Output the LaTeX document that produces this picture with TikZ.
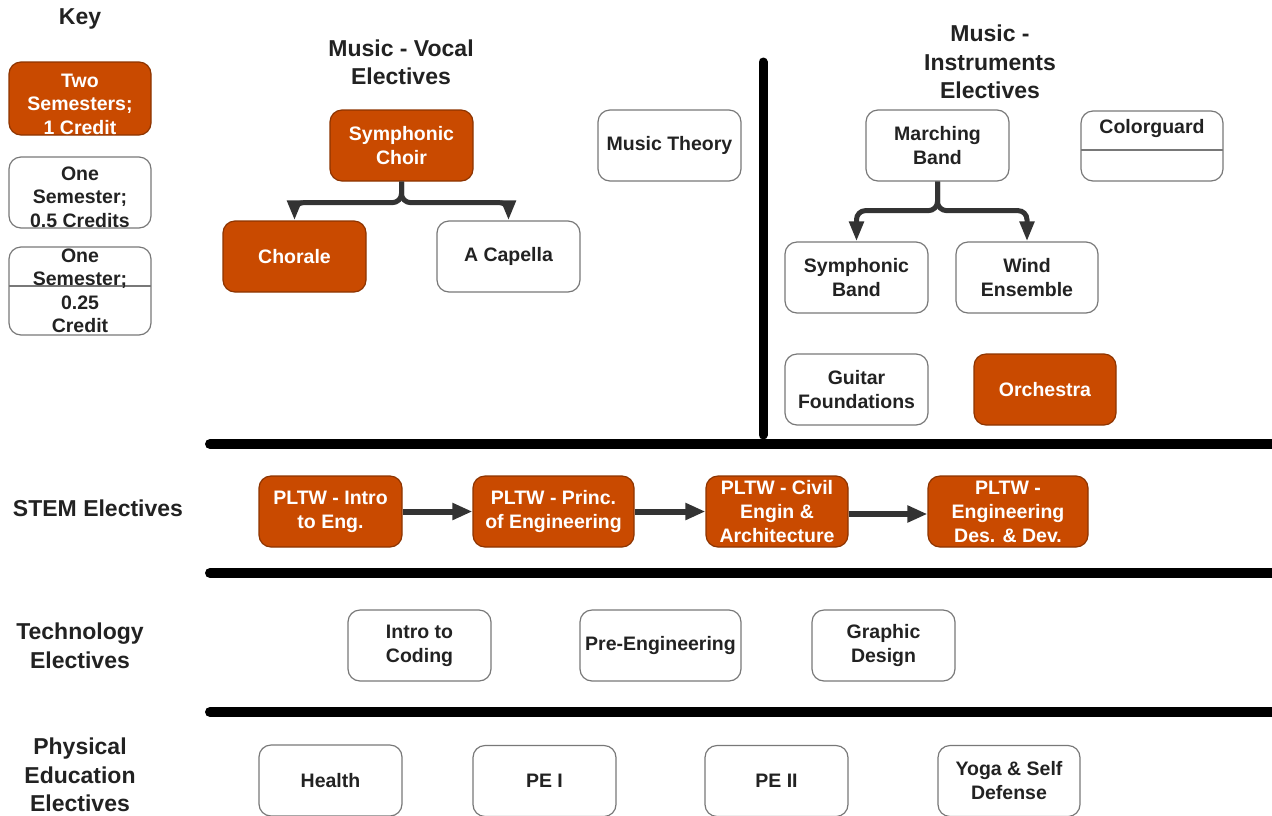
\documentclass[tikz,border=0pt]{standalone}
\usepackage{fontspec}
\setmainfont{Liberation Sans}
\usetikzlibrary{arrows.meta}
\definecolor{lorange}{RGB}{201,74,0}
\definecolor{bgray}{RGB}{120,120,120}
\definecolor{tdark}{RGB}{34,34,34}
\definecolor{cdark}{RGB}{51,51,51}
\tikzset{
  box/.style={draw=bgray, line width=1.2pt, rounded corners=12pt, minimum width=143pt, minimum height=71pt, inner sep=0pt, align=center, text=tdark, font=\bfseries\fontsize{19.5}{24}\selectfont},
  obox/.style={box, fill=lorange, draw=lorange!70!black, text=white},
  ktext/.style={align=center, inner sep=0pt, text=tdark, font=\bfseries\fontsize{19.5}{23.5}\selectfont},
  title/.style={align=center, inner sep=0pt, text=tdark, font=\bfseries\fontsize{23}{28.5}\selectfont},
  sep/.style={line width=10pt, line cap=round, black},
  conn/.style={draw=cdark, line width=5pt, rounded corners=9pt, -{Triangle[length=20pt,width=14pt]}},
  flow/.style={draw=cdark, line width=6pt, -{Triangle[length=20pt,width=16pt]}}
}
\begin{document}
\begin{tikzpicture}[x=1pt,y=-1pt]
\path[use as bounding box] (0,0) rectangle (1272,815);
\clip (0,0) rectangle (1272,815);
% Key
\node[title] (keyt) at (80,19) {Key};
\node[obox, minimum width=142pt, minimum height=73pt] (k1) at (80,98.5) {};
\node[ktext, text=white] (k1t) at (80,104) {Two\\Semesters;\\1 Credit};
\node[box, minimum width=142pt, minimum height=71pt] (k2) at (80,192.5) {};
\node[ktext] (k2t) at (80,197) {One\\Semester;\\0.5 Credits};
\node[box, minimum width=142pt, minimum height=88pt] (k3) at (80,291) {};
\coordinate (k3l) at (9,286);
\coordinate (k3r) at (151,286);
\draw[bgray, line width=1.2pt] (k3l) -- (k3r);
\node[ktext] (k3t) at (80,291) {One\\Semester;\\0.25\\Credit};
% Music vocal
\node[title] (mvt) at (401,62.5) {Music - Vocal\\Electives};
\node[obox] (sc) at (401.5,145.5) {Symphonic\\Choir};
\node[obox] (chor) at (294.5,256.5) {Chorale};
\node[box] (acap) at (508.5,256.5) {A Capella};
\node[box] (mth) at (669.5,145.5) {Music Theory};
\draw[conn] (sc.south) -- ++(0,21) -| (chor.north);
\draw[conn] (sc.south) -- ++(0,21) -| (acap.north);
% vertical divider
\coordinate (vtop) at (763,62);
\coordinate (vbot) at (763,435);
\draw[line width=9pt, line cap=round, black] (vtop) -- (vbot);
% Music instruments
\node[title] (mit) at (990,62) {Music -\\Instruments\\Electives};
\node[box] (mb) at (937.5,145.5) {Marching\\Band};
\node[box, minimum width=142pt, minimum height=70pt] (cg) at (1152,146) {};
\node[ktext] (cgt) at (1152,128) {Colorguard};
\coordinate (cgl) at (1081,150);
\coordinate (cgr) at (1223,150);
\draw[bgray, line width=1.2pt] (cgl) -- (cgr);
\node[box] (sb) at (856.5,277.5) {Symphonic\\Band};
\node[box, minimum width=142pt] (we) at (1027,277.5) {Wind\\Ensemble};
\node[box] (gf) at (856.5,389.5) {Guitar\\Foundations};
\node[obox, minimum width=142pt] (orch) at (1045,389.5) {Orchestra};
\draw[conn] (mb.south) -- ++(0,29) -| (sb.north);
\draw[conn] (mb.south) -- ++(0,29) -| (we.north);
% separators
\coordinate (s1a) at (210,444); \coordinate (s1b) at (1290,444);
\coordinate (s2a) at (210,573); \coordinate (s2b) at (1290,573);
\coordinate (s3a) at (210,712); \coordinate (s3b) at (1290,712);
\draw[sep] (s1a) -- (s1b);
\draw[sep] (s2a) -- (s2b);
\draw[sep] (s3a) -- (s3b);
% STEM
\node[title] (stemt) at (98,508) {STEM Electives};
\node[obox] (p1) at (330.5,511.5) {PLTW - Intro\\to Eng.};
\node[obox, minimum width=161pt] (p2) at (553.5,511.5) {PLTW - Princ.\\of Engineering};
\node[obox, minimum width=142pt] (p3) at (777,511.5) {PLTW - Civil\\Engin \&\\Architecture};
\node[obox, minimum width=160pt] (p4) at (1008,511.5) {PLTW -\\Engineering\\Des. \& Dev.};
\draw[flow] (p1) -- (p2);
\draw[flow] (p2) -- (p3);
\draw[flow] ([yshift=-2.5pt]p3.east) -- ([yshift=-2.5pt]p4.west);
% Technology
\node[title] (techt) at (80,646) {Technology\\Electives};
\node[box] (ic) at (419.5,645.5) {Intro to\\Coding};
\node[box, minimum width=161pt] (pe) at (660.5,645.5) {Pre-Engineering};
\node[box] (gd) at (883.5,645.5) {Graphic\\Design};
% Physical education
\node[title] (pet) at (80,775) {Physical\\Education\\Electives};
\node[box] (hl) at (330.5,780.5) {Health};
\node[box] (pe1) at (544.5,781) {PE I};
\node[box] (pe2) at (776.5,781) {PE II};
\node[box, minimum width=142pt] (yoga) at (1009,781) {Yoga \& Self\\Defense};
\end{tikzpicture}
\end{document}
